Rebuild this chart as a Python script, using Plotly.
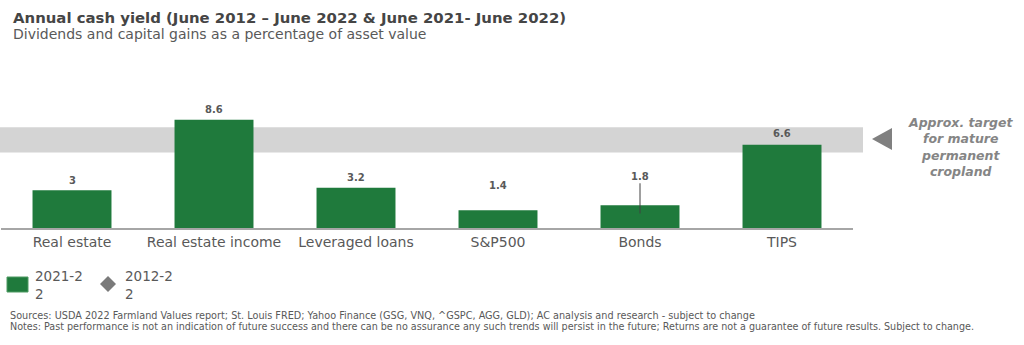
import plotly.graph_objects as go

# ---- data ----
categories = ["Real estate", "Real estate income", "Leveraged loans", "S&P500", "Bonds", "TIPS"]
yield_2021_22 = [3.0, 8.6, 3.2, 1.4, 1.8, 6.6]
bonds_range = [1.15, 3.55]          # vertical line drawn on the Bonds bar
target_band = [6.0, 8.0]            # approx. target for mature permanent cropland
label_offsets_px = [10, 10, 10, 25, 29, 11]

title = "Annual cash yield (June 2012 \u2013 June 2022 & June 2021- June 2022)"
subtitle = "Dividends and capital gains as a percentage of asset value"
sources = ("Sources: USDA 2022 Farmland Values report; St. Louis FRED; Yahoo Finance (GSG, VNQ, ^GSPC, AGG, GLD); "
           "AC analysis and research - subject to change")
notes = ("Notes: Past performance is not an indication of future success and there can be no assurance any such "
         "trends will persist in the future; Returns are not a guarantee of future results. Subject to change.")
target_text = "Approx. target<br>for mature<br>permanent<br>cropland"
legend_names = ["2021-2<br>2", "2012-2<br>2"]

# ---- layout geometry (pixels) ----
W_FIG, H_FIG = 1024, 345
L, R, T, B = 1, 171, 90, 117
PW = W_FIG - L - R
PH = H_FIG - T - B
PX_PER_UNIT = 12.6

def xp(px):
    return (px - L) / PW

def yp(py):
    return (H_FIG - B - py) / PH

FONT = "DejaVu Sans"
GREEN = "#1f7a3c"
GRAY_TXT = "#595959"

fig = go.Figure()
fig.add_trace(go.Bar(
    x=categories, y=yield_2021_22, marker=dict(color=GREEN, line=dict(width=0)),
    showlegend=False, hoverinfo="x+y"))
fig.add_trace(go.Scatter(
    x=["Bonds", "Bonds"], y=bonds_range, mode="lines",
    line=dict(color="#404040", width=1), showlegend=False, hoverinfo="skip"))

annotations = []
for c, v, off in zip(categories, yield_2021_22, label_offsets_px):
    annotations.append(dict(x=c, y=v, xref="x", yref="y", text=f"{v:g}", showarrow=False,
                            yanchor="middle", yshift=off,
                            font=dict(family=FONT, size=10, color=GRAY_TXT, weight="bold")))

annotations += [
    dict(x=xp(11), y=yp(17.5), xref="paper", yref="paper", text=f"<b>{title}</b>", showarrow=False,
         xanchor="left", yanchor="middle", font=dict(family=FONT, size=14.9, color="#454545")),
    dict(x=xp(11), y=yp(34), xref="paper", yref="paper", text=subtitle, showarrow=False,
         xanchor="left", yanchor="middle", font=dict(family=FONT, size=14, color=GRAY_TXT)),
    dict(x=xp(8), y=yp(315.5), xref="paper", yref="paper", text=sources, showarrow=False,
         xanchor="left", yanchor="middle", font=dict(family=FONT, size=9.7, color=GRAY_TXT)),
    dict(x=xp(8), y=yp(326.5), xref="paper", yref="paper", text=notes, showarrow=False,
         xanchor="left", yanchor="middle", font=dict(family=FONT, size=9.6, color=GRAY_TXT)),
    dict(x=xp(960), y=yp(146.5), xref="paper", yref="paper", text=f"<b><i>{target_text}</i></b>",
         showarrow=False, xanchor="center", yanchor="middle", align="center",
         font=dict(family=FONT, size=12.5, color="#858585")),
    dict(x=xp(33), y=yp(285), xref="paper", yref="paper", text=legend_names[0], showarrow=False,
         xanchor="left", yanchor="middle", align="left",
         font=dict(family=FONT, size=13.5, color=GRAY_TXT)),
    dict(x=xp(123), y=yp(285), xref="paper", yref="paper", text=legend_names[1], showarrow=False,
         xanchor="left", yanchor="middle", align="left",
         font=dict(family=FONT, size=13.5, color=GRAY_TXT)),
]

def path(points):
    return "M " + " L ".join(f"{xp(a):.5f},{yp(b):.5f}" for a, b in points) + " Z"

shapes = [
    dict(type="rect", xref="paper", yref="y", x0=xp(0), x1=xp(863), y0=target_band[0], y1=target_band[1],
         fillcolor="#d4d4d4", line=dict(width=0), layer="below"),
    dict(type="path", xref="paper", yref="paper", path=path([(892, 128), (892, 150), (872, 139)]),
         fillcolor="#808080", line=dict(width=0)),
    dict(type="rect", xref="paper", yref="paper", x0=xp(7), x1=xp(28), y0=yp(292), y1=yp(277),
         fillcolor=GREEN, line=dict(color="#4f9a62", width=1)),
    dict(type="path", xref="paper", yref="paper",
         path=path([(108, 276), (116, 284), (108, 292), (100, 284)]),
         fillcolor="#7a7a7a", line=dict(width=0)),
]

fig.update_layout(
    width=W_FIG, height=H_FIG,
    margin=dict(l=L, r=R, t=T, b=B, pad=0),
    paper_bgcolor="white", plot_bgcolor="rgba(0,0,0,0)",
    bargap=0.444,
    showlegend=False,
    annotations=annotations, shapes=shapes,
    font=dict(family=FONT, color=GRAY_TXT),
)
fig.update_xaxes(showline=True, linecolor="#a6a6a6", linewidth=1.5, ticks="", showgrid=False,
                 tickfont=dict(family=FONT, size=14, color=GRAY_TXT), fixedrange=True)
fig.update_yaxes(range=[0, PH / PX_PER_UNIT], visible=False, showgrid=False, zeroline=False, fixedrange=True)

fig.write_html("out.html", config={"displayModeBar": False})
